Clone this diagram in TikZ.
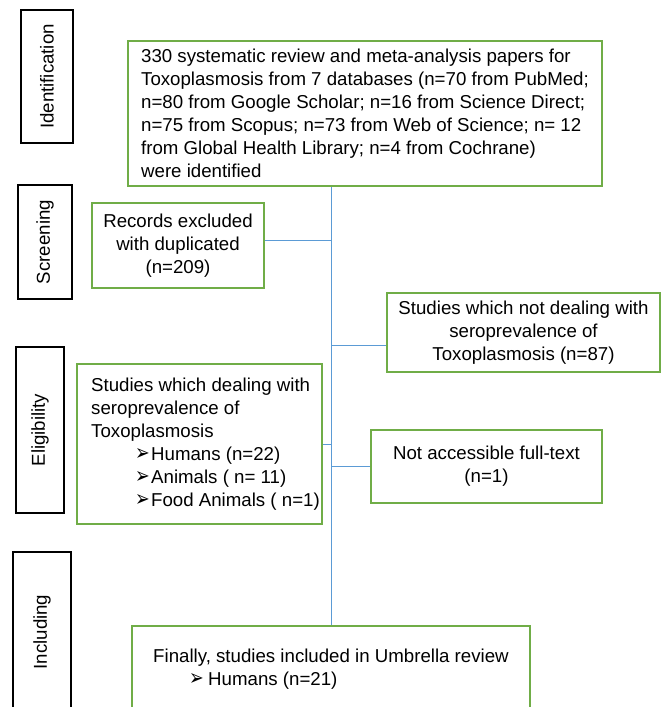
\documentclass[tikz,border=0pt]{standalone}
\usepackage{fontspec}
\usepackage{graphicx}
\setmainfont{Liberation Sans}
\newfontfamily\symfont{DejaVu Sans}
\usetikzlibrary{positioning}

\definecolor{boxgreen}{HTML}{70AD47}
\definecolor{lineblue}{HTML}{5B9BD5}

\newcommand{\arw}[1]{\makebox[#1][l]{\resizebox{11pt}{9pt}{\symfont ➢}}}

\begin{document}
\begin{tikzpicture}[x=0.75pt,y=-0.75pt,
  stage/.style={draw=black,line width=1.9pt,rotate=90,inner sep=0pt,
    font=\fontsize{14pt}{17.25pt}\selectfont},
  gbox/.style={draw=boxgreen,line width=1.9pt,inner sep=0pt,
    font=\fontsize{14pt}{17.25pt}\selectfont},
  link/.style={draw=lineblue,line width=0.75pt}]

\path[use as bounding box,clip] (0,0) rectangle (661,707);

% stages on the left
\node[stage,minimum width=99.75pt,minimum height=39pt] (ident) at (47,76.5) {Identification};
\node[stage,minimum width=85.5pt,minimum height=40.5pt] (screen) at (45,242) {Screening};
\node[stage,minimum width=124.5pt,minimum height=36pt] (elig) at (40,430) {Eligibility};
\node[stage,minimum width=120pt,minimum height=43.5pt] (incl) at (42,632) {Including};

% boxes
\node[gbox,minimum width=355.5pt,minimum height=108.75pt,align=left] (main) at (365,113.5)
  {330 systematic review and meta-analysis papers for\\
   Toxoplasmosis from 7 databases (n=70 from PubMed;\\
   n=80 from Google Scholar; n=16 from Science Direct;\\
   n=75 from Scopus; n=73 from Web of Science; n= 12\\
   from Global Health Library; n=4 from Cochrane)\\
   were identified};

\node[gbox,minimum width=129pt,minimum height=63.75pt,align=center] (rec) at (178,245.5)
  {Records excluded\\ with duplicated\\ (n=209)};

\node[gbox,minimum width=204.75pt,minimum height=59.25pt,align=center] (notdeal) at (523.5,332.5)
  {Studies which not dealing with\\ seroprevalence of\\ Toxoplasmosis (n=87)};

\node[gbox,minimum width=183.75pt,minimum height=120pt,align=left] (deal) at (199.5,444)
  {\hspace*{9pt}Studies which dealing with\\
   \hspace*{9pt}seroprevalence of\\
   \hspace*{9pt}Toxoplasmosis\\
   \hspace*{42pt}\arw{12pt}Humans (n=22)\\
   \hspace*{42pt}\arw{12pt}Animals ( n= 11)\\
   \hspace*{42pt}\arw{12pt}Food Animals ( n=1)};

\node[gbox,minimum width=173.25pt,minimum height=54.75pt,align=center] (noacc) at (486.5,466.5)
  {Not accessible full-text\\ (n=1)};

\node[gbox,minimum width=298.5pt,minimum height=64.5pt,align=left] (fin) at (331,669)
  {Finally, studies included in Umbrella review\\
   \hspace*{27pt}\arw{14.25pt}Humans (n=21)};

% connectors
\draw[link] (fin.north |- main.south) -- (fin.north);
\draw[link] ([yshift=3.4pt]rec.east) -- ([yshift=3.4pt]rec.east -| fin.north);
\draw[link] ([yshift=-9.75pt]notdeal.west) -- ([yshift=-9.75pt]notdeal.west -| fin.north);
\draw[link] (deal.east) -- (deal.east -| fin.north);
\draw[link] (noacc.west) -- (noacc.west -| fin.north);

\end{tikzpicture}
\end{document}
